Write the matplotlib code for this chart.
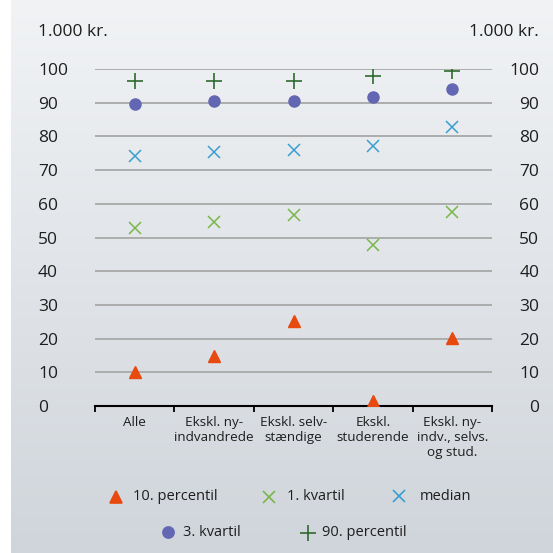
import numpy as np
import matplotlib
matplotlib.use("Agg")
import matplotlib.pyplot as plt
from matplotlib.lines import Line2D

plt.rcParams['font.family'] = ['Open Sans', 'DejaVu Sans']

# data (1.000 kr.)
categories = ["Alle", "Ekskl. ny-\nindvandrede", "Ekskl. selv-\nstændige",
              "Ekskl.\nstuderende", "Ekskl. ny-\nindv., selvs.\nog stud."]
p10 = [10.0, 14.9, 25.3, 1.6, 20.1]
q1 = [52.9, 54.7, 56.6, 47.7, 57.7]
median = [74.3, 75.3, 76.0, 77.2, 82.9]
q3 = [89.7, 90.6, 90.6, 91.7, 94.0]
p90 = [96.4, 96.4, 96.4, 97.8, 99.5]
yticks = [0, 10, 20, 30, 40, 50, 60, 70, 80, 90, 100]

c_p10 = "#e8490f"
c_q1 = "#7ab648"
c_med = "#3a9fd0"
c_q3 = "#6367b3"
c_p90 = "#2e6b2e"
txtc = "#1e1e1e"

fig = plt.figure(figsize=(5.53, 5.53), dpi=100)
fig.patch.set_facecolor("white")

# gradient background panel
bg = fig.add_axes([11 / 553, 0, 1 - 11 / 553, 1], zorder=-10)
top = np.array([241, 243, 245]) / 255
bot = np.array([208, 213, 219]) / 255
t = np.linspace(0, 1, 256)[:, None]
grad = top * (1 - t) + bot * t
bg.imshow(grad[:, None, :].repeat(2, axis=1), aspect="auto", extent=[0, 1, 0, 1])
bg.axis("off")

ax = fig.add_axes([95 / 553, 1 - 406 / 553, 397 / 553, 337 / 553])
ax.patch.set_alpha(0)
x = np.arange(len(categories)) + 0.5
ax.set_xlim(0, 5)
ax.set_ylim(0, 100)

for y in yticks[1:]:
    ax.axhline(y, color="#a8a8a8", lw=1.3, zorder=1)

ax.plot(x, p10, ls="none", marker="^", ms=8, color=c_p10, zorder=3)
ax.plot(x, q1, ls="none", marker="x", ms=8, mew=1.1, color=c_q1, zorder=3)
ax.plot(x, median, ls="none", marker="x", ms=8, mew=1.1, color=c_med, zorder=3)
ax.plot(x, q3, ls="none", marker="o", ms=8, color=c_q3, zorder=3)
ax.plot(x, p90, ls="none", marker="+", ms=11.5, mew=1.2, color=c_p90, zorder=3)

for s in ["top", "left", "right"]:
    ax.spines[s].set_visible(False)
ax.spines["bottom"].set_linewidth(1.5)
ax.spines["bottom"].set_color("black")

ax.set_xticks(x)
ax.set_xticklabels(categories, fontsize=9.7, linespacing=1.22, color=txtc)
ax.set_xticks(np.arange(6), minor=True)
ax.tick_params(axis="x", which="major", length=0, pad=7)
ax.tick_params(axis="x", which="minor", length=4, width=1.3, direction="out")

ax.set_yticks(yticks)
ax.set_yticklabels([str(v) for v in yticks], fontsize=12.5, color=txtc)
ax.tick_params(axis="y", length=0, pad=41)
for lab in ax.get_yticklabels():
    lab.set_horizontalalignment("left")

ax2 = ax.twinx()
ax2.set_ylim(0, 100)
for s in ["top", "left", "right", "bottom"]:
    ax2.spines[s].set_visible(False)
ax2.set_yticks(yticks)
ax2.set_yticklabels([str(v) for v in yticks], fontsize=12.5, color=txtc)
ax2.tick_params(axis="y", length=0, pad=34)
for lab in ax2.get_yticklabels():
    lab.set_horizontalalignment("right")

fig.text(38 / 553, 1 - 32 / 553, "1.000 kr.", fontsize=12.5, color=txtc,
         ha="left", va="center")
fig.text(539 / 553, 1 - 32 / 553, "1.000 kr.", fontsize=12.5, color=txtc,
         ha="right", va="center")

# legend, two rows
legend_items = [
    (116, 497, "^", 8, c_p10, "10. percentil", 133),
    (269, 497, "x", 8, c_q1, "1. kvartil", 287),
    (399, 496, "x", 8, c_med, "median", 420),
    (168, 532, "o", 8, c_q3, "3. kvartil", 183),
    (308, 533, "+", 11.5, c_p90, "90. percentil", 322),
]
for mx, my, mk, ms, col, txt, tx in legend_items:
    fig.add_artist(Line2D([mx / 553], [1 - my / 553], transform=fig.transFigure,
                          ls="none", marker=mk, ms=ms, mew=1.2, color=col))
    fig.text(tx / 553, 1 - my / 553, txt, fontsize=10.5, color=txtc,
             ha="left", va="center")

fig.savefig("out.png", dpi=100)
